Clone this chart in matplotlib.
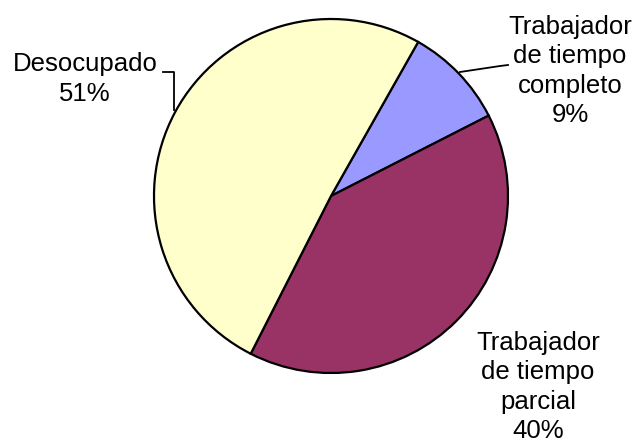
import matplotlib
matplotlib.use("Agg")
import matplotlib.pyplot as plt

labels = ["Trabajador\nde tiempo\ncompleto", "Trabajador\nde tiempo\nparcial", "Desocupado"]
values = [9.3, 40.0, 50.7]
pct_labels = ["9%", "40%", "51%"]
colors = ["#9999FF", "#993366", "#FFFFCC"]

plt.rcParams['font.family'] = ['Liberation Sans', 'DejaVu Sans']

fig = plt.figure(figsize=(6.41, 4.43), dpi=100)
ax = fig.add_axes([0, 0, 1, 1])

cx, cy, r = 331, 247, 177
ax.pie(values, colors=colors, startangle=60.5, counterclock=False,
       center=(cx, cy), radius=r, frame=True,
       wedgeprops=dict(edgecolor='black', linewidth=1.6))
ax.set_xlim(0, 641)
ax.set_ylim(0, 443)
ax.set_aspect('equal')
ax.axis('off')

fs = 18.5
ax.text(570, 372, labels[0] + "\n" + pct_labels[0], ha='center', va='center', fontsize=fs, linespacing=1.27)
ax.text(538, 56, labels[1] + "\n" + pct_labels[1], ha='center', va='center', fontsize=fs, linespacing=1.27)
ax.text(85, 364, labels[2] + "\n" + pct_labels[2], ha='center', va='center', fontsize=fs, linespacing=1.27)

ax.plot([163, 174, 174], [371, 371, 333], color='black', lw=1.3)
ax.plot([460, 500, 508], [371, 377, 378], color='black', lw=1.3)

fig.savefig("out.png", dpi=100)
